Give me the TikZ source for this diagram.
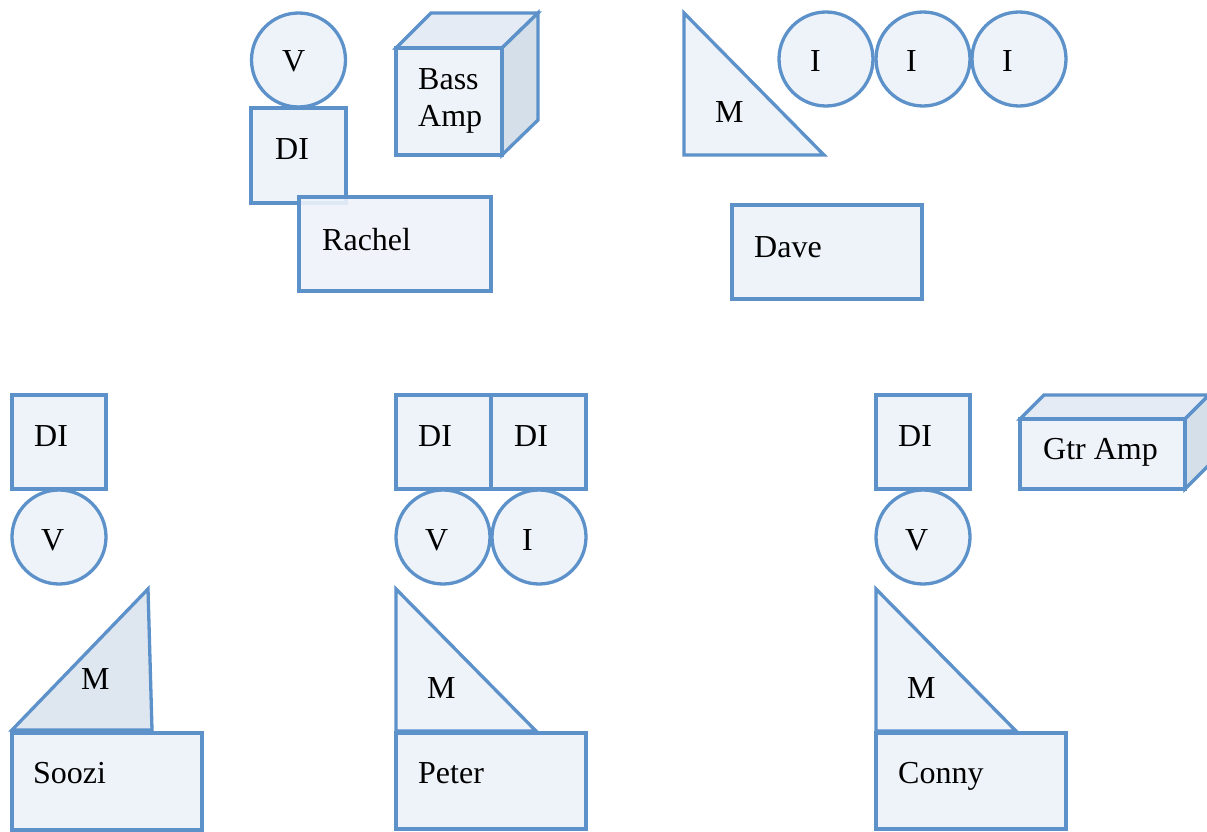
\documentclass[tikz,border=0pt]{standalone}
\usepackage{fontspec}
\setmainfont{Liberation Serif}
\definecolor{edge}{HTML}{5C91CA}
\definecolor{pale}{HTML}{EEF3FA}
\definecolor{dark}{HTML}{DEE6F0}
\definecolor{topf}{HTML}{E4EBF4}
\definecolor{side}{HTML}{D4DFE9}
\tikzset{
  shp/.style={draw=edge, fill=pale, line width=3.3pt, line join=miter},
  lab/.style={anchor=base west, inner sep=0pt, font=\fontsize{32}{36}\selectfont, text=black}
}
\begin{document}
\begin{tikzpicture}[x=1pt,y=-1pt]
\useasboundingbox (0,0) rectangle (1207,832);
\begin{scope}
\clip (0,0) rectangle (1207,832);
% ---------------- Rachel group ----------------
\draw[shp] (298.5,60) circle (47);
\node[lab] (rv) at (282,72) {V};
\draw[shp] (251,108) rectangle (346,203);
\node[lab] (rdi) at (275,160) {DI};
\draw[shp, fill opacity=0.9] (299,197) rectangle (491,291);
\node[lab] (rachel) at (322,250) {Rachel};
% Bass amp cube
\draw[shp, fill=topf] (396,48) -- (431,13) -- (538,13) -- (502,48) -- cycle;
\draw[shp, fill=side] (502,48) -- (538,13) -- (538,120) -- (502,155) -- cycle;
\draw[shp] (396,48) rectangle (502,155);
\node[lab] (bass) at (418,90) {Bass};
\node[lab] (amp) at (418,127) {Amp};
% ---------------- Dave group ----------------
\draw[shp] (684,13) -- (684,155) -- (824,155) -- cycle;
\node[lab] (dm) at (715,123) {M};
\draw[shp] (826,59) circle (47);
\draw[shp] (923,59) circle (47);
\draw[shp] (1019,59) circle (47);
\node[lab] (di1) at (810,72) {I};
\node[lab] (di2) at (906,72) {I};
\node[lab] (di3) at (1002,72) {I};
\draw[shp] (732,205) rectangle (922,299);
\node[lab] (dave) at (754,257) {Dave};
% ---------------- Soozi group ----------------
\draw[shp] (12,395) rectangle (106,489);
\node[lab] (sdi) at (34,446) {DI};
\draw[shp] (59,537) circle (47);
\node[lab] (sv) at (41,550) {V};
\draw[shp, fill=dark] (12,730) -- (148,589) -- (152,730) -- cycle;
\node[lab] (sm) at (81,689) {M};
\draw[shp] (12,733) rectangle (202,830);
\node[lab] (soozi) at (33,783) {Soozi};
% ---------------- Peter group ----------------
\draw[shp] (396,395) rectangle (491,489);
\draw[shp] (491,395) rectangle (586,489);
\node[lab] (pdi1) at (418,446) {DI};
\node[lab] (pdi2) at (514,446) {DI};
\draw[shp] (443,537) circle (47);
\draw[shp] (539,537) circle (47);
\node[lab] (pv) at (425,550) {V};
\node[lab] (pi) at (522,550) {I};
\draw[shp] (396,589) -- (396,731) -- (536,731) -- cycle;
\node[lab] (pm) at (427,698) {M};
\draw[shp] (396,733) rectangle (586,829);
\node[lab] (peter) at (418,783) {Peter};
% ---------------- Conny group ----------------
\draw[shp] (876,395) rectangle (970,489);
\node[lab] (cdi) at (898,446) {DI};
\draw[shp] (923,537) circle (47);
\node[lab] (cv) at (905,550) {V};
\draw[shp] (876,589) -- (876,731) -- (1016,731) -- cycle;
\node[lab] (cm) at (907,698) {M};
\draw[shp] (876,733) rectangle (1066,829);
\node[lab] (conny) at (898,783) {Conny};
% Gtr amp cube
\draw[shp, fill=topf] (1020,419) -- (1044,395) -- (1209,395) -- (1185,419) -- cycle;
\draw[shp, fill=side] (1185,419) -- (1209,395) -- (1209,465) -- (1185,489) -- cycle;
\draw[shp] (1020,419) rectangle (1185,489);
\node[lab] (gtr) at (1043,459) {Gtr Amp};
\end{scope}
\end{tikzpicture}
\end{document}
